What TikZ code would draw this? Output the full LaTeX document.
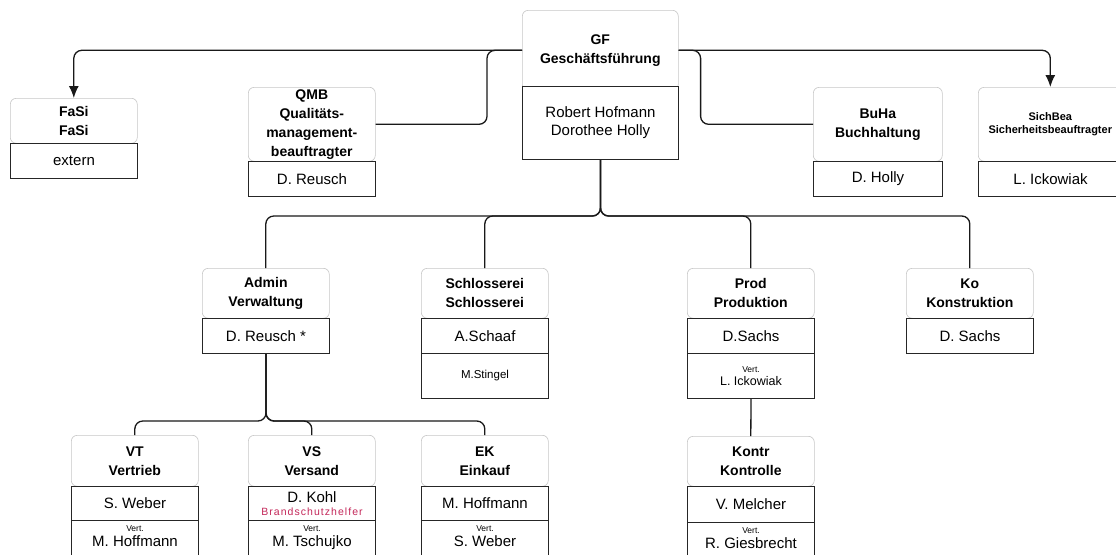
\documentclass[tikz,border=0pt]{standalone}
\usepackage{fontspec}
\setmainfont{Liberation Sans}
\usepackage{xcolor}
\usetikzlibrary{arrows.meta,positioning}
\tikzset{>={Latex[length=12pt,width=10pt]}}
\definecolor{brandrot}{RGB}{196,40,90}
\newcommand{\vertschrift}{\fontsize{8.5}{10}\selectfont}
\newcommand{\kleinschrift}{\fontsize{10.5}{12}\selectfont}
\tikzset{
	kopf/.style={draw=black!22,line width=0.6pt,rounded corners=6pt,fill=white,
		minimum width=127pt,inner sep=0pt,align=center,anchor=north west,
		font=\fontsize{14}{19}\selectfont\bfseries},
	person/.style={draw=black!85,line width=1pt,fill=white,minimum width=127pt,
		minimum height=35pt,inner sep=0pt,align=center,anchor=north west,
		font=\fontsize{15}{18}\selectfont},
	vertbox/.style={person,minimum height=40pt,text depth=9pt},
	linie/.style={draw=black!90,line width=1.3pt,rounded corners=8pt}
}

\begin{document}
\begin{tikzpicture}[x=1pt,y=-1pt]
            \useasboundingbox (0,0) rectangle (1116,554);
            \fill[white] (0,0) rectangle (1116,554);
            \clip (0,0) rectangle (1116,554);
            \node[kopf,minimum width=156pt,minimum height=80pt] (gfk) at (522,10) {GF\\Geschäftsführung};
            \node[person,minimum width=156pt,minimum height=73pt] (gfp) at (522,86) {Robert Hofmann\\Dorothee Holly};
            \node[kopf,minimum height=45pt] (fasik) at (10,98) {FaSi\\FaSi};
            \node[person] (fasip) at (10,143) {extern};
            \node[kopf,minimum height=74pt] (qmbk) at (248,87) {QMB\\Qualitäts-\\management-\\beauftragter};
            \node[person] (qmbp) at (248,161) {D. Reusch};
            \node[kopf,minimum width=129pt,minimum height=74pt] (buhak) at (813,87) {BuHa\\Buchhaltung};
            \node[person,minimum width=129pt] (buhap) at (813,161) {D. Holly};
            \node[kopf,minimum width=144pt,minimum height=74pt,font=\fontsize{11}{13}\selectfont\bfseries] (sichk) at (978,87) {SichBea\\Sicherheitsbeauftragter};
            \node[person,minimum width=144pt] (sichp) at (978,161) {L. Ickowiak};
            \node[kopf,minimum height=50pt] (admink) at (202,268) {Admin\\Verwaltung};
            \node[person] (adminp) at (202,318) {D. Reusch *};
            \node[kopf,minimum height=50pt] (schlk) at (421,268) {Schlosserei\\Schlosserei};
            \node[person] (schlp) at (421,318) {A.Schaaf};
            \node[person,minimum height=45pt,font=\fontsize{11.5}{13}\selectfont] (schlv) at (421,353) {M.Stingel};
            \node[kopf,minimum height=50pt] (prodk) at (687,268) {Prod\\Produktion};
            \node[person] (prodp) at (687,318) {D.Sachs};
            \node[person,minimum height=45pt,font=\fontsize{12.5}{15}\selectfont] (prodv) at (687,353) {{\vertschrift Vert.}\\[-2pt]L. Ickowiak};
            \node[kopf,minimum height=50pt] (kok) at (906,268) {Ko\\Konstruktion};
            \node[person] (kop) at (906,318) {D. Sachs};
            \node[kopf,minimum height=51pt] (vtk) at (71,435) {VT\\Vertrieb};
            \node[person,minimum height=34pt] (vtp) at (71,486) {S. Weber};
            \node[vertbox] (vtv) at (71,520) {{\vertschrift Vert.}\\[-3pt]M. Hoffmann};
            \node[kopf,minimum height=51pt] (vsk) at (248,435) {VS\\Versand};
            \node[person,minimum height=34pt] (vsp) at (248,486) {D. Kohl\\[-5pt]{\kleinschrift\addfontfeature{LetterSpace=10}\color{brandrot}Brandschutzhelfer}};
            \node[vertbox] (vsv) at (248,520) {{\vertschrift Vert.}\\[-3pt]M. Tschujko};
            \node[kopf,minimum height=51pt] (ekk) at (421,435) {EK\\Einkauf};
            \node[person,minimum height=34pt] (ekp) at (421,486) {M. Hoffmann};
            \node[vertbox] (ekv) at (421,520) {{\vertschrift Vert.}\\[-3pt]S. Weber};
            \node[kopf,minimum height=50pt] (kontrk) at (687,436) {Kontr\\Kontrolle};
            \node[person,minimum height=36pt] (kontrp) at (687,486) {V. Melcher};
            \node[vertbox] (kontrv) at (687,522) {{\vertschrift Vert.}\\[-3pt]R. Giesbrecht};
            \draw[linie,->] (gfk.west) -| (fasik.north);
            \draw[linie] (gfk.west) -- ++(-35,0) |- (qmbk.east);
            \draw[linie,->] (gfk.east) -| (sichk.north);
            \draw[linie] (gfk.east) -- ++(22,0) |- (buhak.west);
            \draw[linie] (gfp.south) -- ++(0,56) -| (admink.north);
            \draw[linie] (gfp.south) -- ++(0,56) -| (schlk.north);
            \draw[linie] (gfp.south) -- ++(0,56) -| (prodk.north);
            \draw[linie] (gfp.south) -- ++(0,56) -| (kok.north);
            \draw[linie] (adminp.south) -- ++(0,67) -| (vtk.north);
            \draw[linie] (adminp.south) -- ++(0,67) -| (vsk.north);
            \draw[linie] (adminp.south) -- ++(0,67) -| (ekk.north);
            \draw[linie] (prodv.south) -- (kontrk.north);
\end{tikzpicture}
\end{document}
